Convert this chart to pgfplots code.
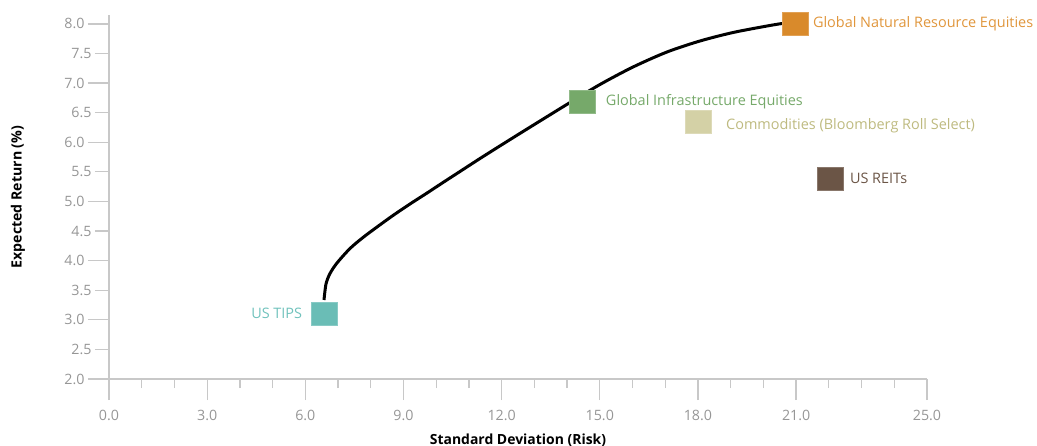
\documentclass[border=0pt]{standalone}
\usepackage{pgfplots}
\pgfplotsset{compat=1.18}
\usepackage{fontspec}
\setmainfont{Open Sans}
\definecolor{tipsc}{RGB}{106,189,182}
\definecolor{tipst}{RGB}{112,194,188}
\definecolor{infrac}{RGB}{118,169,106}
\definecolor{natc}{RGB}{217,138,43}
\definecolor{natt}{RGB}{224,150,60}
\definecolor{comc}{RGB}{212,209,166}
\definecolor{comt}{RGB}{190,186,128}
\definecolor{reitc}{RGB}{107,85,70}
\definecolor{axc}{RGB}{200,200,200}
\definecolor{tlc}{RGB}{150,150,150}
\begin{document}
\begin{tikzpicture}
\begin{axis}[
  at={(0,0)}, anchor=south west,
  scale only axis, width=818bp, height=364bp,
  xmin=0, xmax=25, ymin=2, ymax=8.15,
  axis x line=bottom, axis y line=left,
  axis line style={-, axc, line width=1.3bp},
  tick style={axc, line width=1.3bp},
  tick align=outside,
  major tick length=21bp, minor tick length=9bp,
  xtick={0,3,6,9,12,15,18,21,25},
  minor xtick={1,2,4,5,7,8,10,11,13,14,16,17,19,20,22,23,24},
  ytick={2,3,4,5,6,7,8},
  minor ytick={},
  extra y ticks={2.5,3.5,4.5,5.5,6.5,7.5},
  extra y tick style={major tick length=14bp},
  /pgf/number format/assume math mode=true,
  /pgf/number format/.cd, fixed, fixed zerofill, precision=1, /pgfplots/.cd,
  ticklabel style={font=\fontsize{14.3}{16}\selectfont, text=tlc},
  xticklabel style={yshift=-7bp},
  xlabel={Standard Deviation (Risk)},
  ylabel={Expected Return (\%)},
  xlabel style={at={(axis description cs:0.5,-0.1676)}, anchor=center, font=\bfseries\fontsize{14}{16}\selectfont},
  ylabel style={at={(axis description cs:-0.1112,0.5)}, anchor=center, rotate=0, font=\bfseries\fontsize{14.2}{16}\selectfont},
  clip=false,
]
\addplot[black, line width=3bp, smooth, tension=0.5] coordinates {
(6.571,3.335) (6.632,3.605) (6.754,3.782) (6.968,3.960) (7.366,4.205) (7.763,4.391) (8.191,4.568) (8.680,4.763) (9.199,4.957) (9.719,5.142) (10.208,5.320) (10.727,5.506) (11.338,5.725) (12.164,6.013) (13.172,6.359) (14.089,6.671) (15.006,6.976) (16.015,7.271) (17.054,7.525) (18.063,7.711) (19.071,7.854) (20.110,7.964) (20.568,8.006) (20.81,8.02)
};
\addplot[only marks, mark=square*, mark size=11.5bp, mark options={xscale=1.13, fill=tipsc, draw=tipsc!80!white, line width=0.6bp}] coordinates {(6.58,3.11)}
  node[anchor=east, inner sep=0pt, xshift=-22bp, text=tipst, font=\fontsize{14.5}{16}\selectfont] {US TIPS};
\addplot[only marks, mark=square*, mark size=11.5bp, mark options={xscale=1.13, fill=infrac, draw=infrac!80!white, line width=0.6bp}] coordinates {(14.48,6.68)}
  node[anchor=west, inner sep=0pt, xshift=23bp, text=infrac, font=\fontsize{14.5}{16}\selectfont] {Global Infrastructure Equities};
\addplot[only marks, mark=square*, mark size=11.5bp, mark options={xscale=1.13, fill=comc, draw=comc!80!white, line width=0.6bp}] coordinates {(18.0,6.34)}
  node[anchor=west, inner sep=0pt, xshift=28bp, yshift=-4bp, text=comt, font=\fontsize{14.5}{16}\selectfont] {Commodities (Bloomberg Roll Select)};
\addplot[only marks, mark=square*, mark size=11.5bp, mark options={xscale=1.13, fill=reitc, draw=reitc!80!white, line width=0.6bp}] coordinates {(22.03,5.39)}
  node[anchor=west, inner sep=0pt, xshift=20bp, text=reitc, font=\fontsize{14.5}{16}\selectfont] {US REITs};
\addplot[only marks, mark=square*, mark size=11.5bp, mark options={xscale=1.13, fill=natc, draw=natc!80!white, line width=0.6bp}] coordinates {(20.96,8.0)}
  node[anchor=west, inner sep=0pt, xshift=18bp, text=natt, font=\fontsize{14.5}{16}\selectfont] {Global Natural Resource Equities};
\end{axis}
\pgfresetboundingbox
\useasboundingbox (-109bp,-67bp) rectangle (928bp,379bp);
\end{tikzpicture}
\end{document}
